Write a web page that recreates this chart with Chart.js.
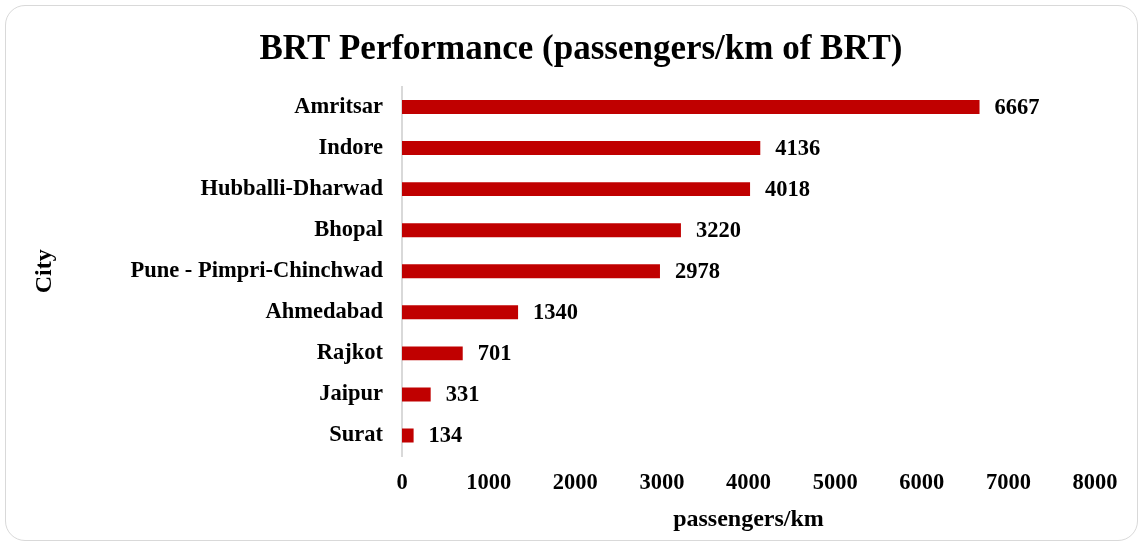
<!DOCTYPE html>
<html lang="en">
<head>
    <meta charset="UTF-8">
    <title>BRT Performance</title>
    <script src="https://cdn.jsdelivr.net/npm/chart.js@4.4.0/dist/chart.umd.min.js"></script>
    <style>
        html, body { margin: 0; padding: 0; background: #fff; }
        #frame {
            position: absolute; left: 5px; top: 5px; width: 1131px; height: 534px;
            border: 1.5px solid #d9d9d9; border-radius: 20px;
        }
        #wrap { position: absolute; left: 0; top: 0; width: 1141px; height: 546px; }
    </style>
</head>
<body>
    <div id="frame"></div>
    <div id="wrap"><canvas id="brt-chart"></canvas></div>

    <script>
        // data
        const cities = ['Amritsar', 'Indore', 'Hubballi-Dharwad', 'Bhopal', 'Pune - Pimpri-Chinchwad',
                        'Ahmedabad', 'Rajkot', 'Jaipur', 'Surat'];
        const passengersPerKm = [6667, 4136, 4018, 3220, 2978, 1340, 701, 331, 134];
        const xTicks = [0, 1000, 2000, 3000, 4000, 5000, 6000, 7000, 8000];

        const serif = "'Liberation Serif', 'Times New Roman', serif";

        // value labels at bar ends
        const valueLabels = {
            id: 'valueLabels',
            afterDatasetsDraw(chart) {
                const ctx = chart.ctx;
                const meta = chart.getDatasetMeta(0);
                ctx.save();
                ctx.font = 'bold 22.5px ' + serif;
                ctx.fillStyle = '#000';
                ctx.textAlign = 'left';
                ctx.textBaseline = 'middle';
                meta.data.forEach((bar, i) => {
                    ctx.fillText(passengersPerKm[i], bar.x + 15, bar.y + 1);
                });
                ctx.restore();
            }
        };

        new Chart(document.getElementById('brt-chart'), {
            type: 'bar',
            data: {
                labels: cities,
                datasets: [{
                    data: passengersPerKm,
                    backgroundColor: '#C00000',
                    barPercentage: 0.34,
                    categoryPercentage: 1
                }]
            },
            options: {
                indexAxis: 'y',
                responsive: true,
                maintainAspectRatio: false,
                animation: false,
                layout: { padding: { left: 67, right: 46, top: 20, bottom: 12 } },
                plugins: {
                    legend: { display: false },
                    tooltip: { enabled: false },
                    title: {
                        display: true,
                        text: 'BRT Performance (passengers/km of BRT)',
                        color: '#000',
                        font: { family: serif, size: 35, weight: 'bold' },
                        padding: { top: 9, bottom: 15.5 }
                    }
                },
                scales: {
                    x: {
                        min: 0,
                        max: 8000,
                        afterBuildTicks: axis => { axis.ticks = xTicks.map(v => ({ value: v })); },
                        grid: { display: false, drawTicks: false },
                        border: { display: false },
                        ticks: {
                            color: '#000',
                            padding: 14,
                            maxRotation: 0,
                            callback: v => String(v),
                            font: { family: serif, size: 22.5, weight: 'bold' }
                        },
                        title: {
                            display: true,
                            text: 'passengers/km',
                            color: '#000',
                            font: { family: serif, size: 24, weight: 'bold' },
                            padding: { top: -5.8, bottom: 0 }
                        }
                    },
                    y: {
                        afterFit: axis => { axis.width = 402 - 67; },
                        grid: { display: false, drawTicks: false },
                        border: { display: true, color: '#d9d9d9', width: 2 },
                        ticks: {
                            color: '#000',
                            padding: 19,
                            font: { family: serif, size: 22.5, weight: 'bold' }
                        },
                        title: {
                            display: true,
                            text: 'City',
                            color: '#000',
                            font: { family: serif, size: 24, weight: 'bold' },
                            padding: { top: -36.4, bottom: 0 }
                        }
                    }
                }
            },
            plugins: [valueLabels]
        });
    </script>
</body>
</html>
